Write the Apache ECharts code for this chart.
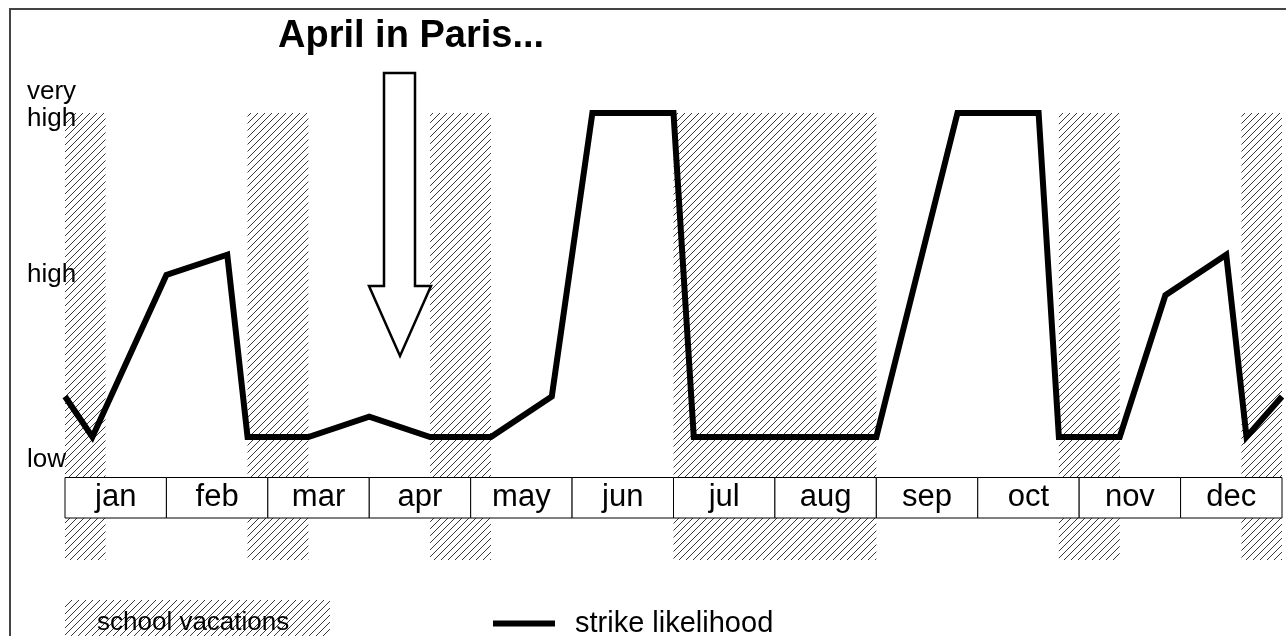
<!DOCTYPE html>
<html>
<head>
	<title>April in Paris</title>
	<meta charset="utf-8">
	<script src="https://cdn.jsdelivr.net/npm/echarts@6/dist/echarts.min.js"></script>
	<style>
		body { margin: 0; background: #fff; }
	</style>
</head>
<body>
	<div id="strike-chart" style="width: 1286px;height: 636px;"></div>
</body>

<script>
	// months, x in month units (0 = start of jan)
	var months = ['jan', 'feb', 'mar', 'apr', 'may', 'jun', 'jul', 'aug', 'sep', 'oct', 'nov', 'dec'];
	// strike likelihood: 0 = low, 2 = high, 4 = very high
	var strikeX = [0, 0.27, 1.0, 1.6, 1.8, 2.4, 3.0, 3.6, 4.2, 4.8, 5.2, 6.0, 6.2, 8.0, 8.8, 9.6, 9.8, 10.4, 10.85, 11.45, 11.65, 12];
	var strikeY = [0.5, 0, 2.0, 2.25, 0, 0, 0.25, 0, 0, 0.5, 4, 4, 0, 0, 4, 4, 0, 0, 1.75, 2.25, 0, 0.5];
	// school vacations [from, to]
	var vacStart = [0, 1.8, 3.6, 6.0, 9.8, 11.6];
	var vacEnd = [0.4, 2.4, 4.2, 8.0, 10.4, 12];
	// y labels
	var levelValues = [-0.28, 2, 4.1];
	var levelNames = ['low', 'high', 'very\nhigh'];

	var FONT = 'Liberation Sans';

	// hatch pattern
	function makeHatch() {
		var c = document.createElement('canvas');
		c.width = 7;
		c.height = 7;
		var ctx = c.getContext('2d');
		ctx.strokeStyle = '#222';
		ctx.lineWidth = 0.9;
		ctx.beginPath();
		ctx.moveTo(-1, 8); ctx.lineTo(8, -1);
		ctx.moveTo(-1, 1); ctx.lineTo(1, -1);
		ctx.moveTo(6, 8); ctx.lineTo(8, 6);
		ctx.stroke();
		return { image: c, repeat: 'repeat' };
	}
	var hatch = makeHatch();

	var lineData = strikeX.map(function (x, i) { return [x, strikeY[i]]; });
	var vacData = vacStart.map(function (s, i) { return [s, vacEnd[i]]; });
	var monthData = months.map(function (m, i) { return [i, m]; });

	var option = {
		animation: false,
		backgroundColor: '#fff',
		title: {
			text: 'April in Paris...',
			left: 278,
			top: 18,
			padding: 0,
			textStyle: { fontFamily: FONT, fontSize: 38, fontWeight: 'bold', color: '#000' }
		},
		legend: {
			data: ['strike likelihood'],
			left: 493,
			top: 609,
			padding: 0,
			icon: 'rect',
			itemWidth: 62,
			itemHeight: 6,
			textStyle: { fontFamily: FONT, fontSize: 29, color: '#000', padding: [0, 0, 0, 15] }
		},
		grid: { left: 65, right: 4, top: 96.8, bottom: 77.5 },
		xAxis: {
			type: 'value',
			min: 0,
			max: 12,
			show: false
		},
		yAxis: {
			type: 'value',
			min: -1.5,
			max: 4.2,
			axisLine: { show: false },
			axisTick: { show: false },
			splitLine: { show: false },
			axisLabel: {
				customValues: levelValues,
				align: 'left',
				margin: 38,
				fontFamily: FONT,
				fontSize: 26,
				lineHeight: 27,
				color: '#000',
				formatter: function (v) {
					var i = levelValues.indexOf(v);
					return i >= 0 ? levelNames[i] : '';
				}
			}
		},
		graphic: [
			{
				type: 'rect',
				shape: { x: 10, y: 9, width: 1300, height: 660 },
				style: { fill: null, stroke: '#444', lineWidth: 2 },
				z: 0
			},
			{
				type: 'rect',
				shape: { x: 65, y: 600, width: 265, height: 40 },
				style: { fill: hatch, stroke: null },
				z: 1
			},
			{
				type: 'text',
				x: 97,
				y: 623,
				style: { text: 'school vacations', fontFamily: FONT, fontSize: 26, fill: '#000', verticalAlign: 'middle' },
				z: 2
			},
			{
				type: 'polygon',
				shape: { points: [[384, 73], [415, 73], [415, 286], [431, 286], [400, 356], [369, 286], [384, 286]] },
				style: { fill: '#fff', stroke: '#000', lineWidth: 2.5, lineJoin: 'miter' },
				z: 10
			}
		],
		series: [
			{
				name: 'school vacations',
				type: 'custom',
				z: 1,
				silent: true,
				data: vacData,
				renderItem: function (params, api) {
					var p0 = api.coord([api.value(0), 4]);
					var p1 = api.coord([api.value(1), -1.52]);
					return {
						type: 'rect',
						shape: { x: p0[0], y: p0[1], width: p1[0] - p0[0], height: p1[1] - p0[1] },
						style: { fill: hatch, stroke: null }
					};
				}
			},
			{
				name: 'months',
				type: 'custom',
				z: 2,
				silent: true,
				data: monthData,
				renderItem: function (params, api) {
					var i = api.value(0);
					var p0 = api.coord([i, -0.5]);
					var p1 = api.coord([i + 1, -1.0]);
					return {
						type: 'rect',
						shape: { x: p0[0], y: p0[1], width: p1[0] - p0[0], height: p1[1] - p0[1] },
						style: { fill: '#fff', stroke: '#000', lineWidth: 1 },
						textContent: {
							style: { text: months[i], fill: '#000', fontFamily: FONT, fontSize: 31 }
						},
						textConfig: { position: 'inside' }
					};
				}
			},
			{
				name: 'strike likelihood',
				type: 'line',
				z: 5,
				data: lineData,
				symbol: 'none',
				itemStyle: { color: '#000' },
				lineStyle: { color: '#000', width: 6, join: 'miter' }
			}
		]
	};

	var chart = echarts.init(document.getElementById('strike-chart'));
	chart.setOption(option);
</script>
</html>
